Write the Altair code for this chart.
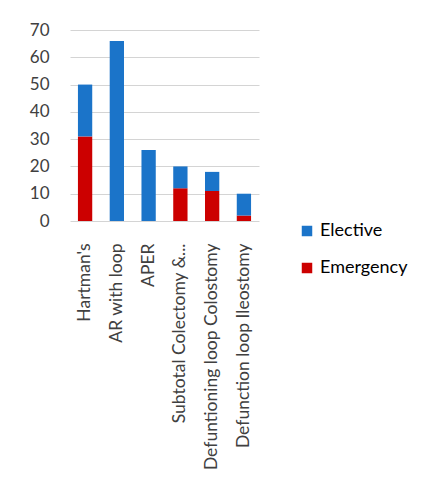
import altair as alt
import pandas as pd

categories = ["Hartman's", "AR with loop", "APER", "Subtotal Colectomy &...",
              "Defuntioning loop Colostomy", "Defunction loop Ileostomy"]
emergency = [31, 0, 0, 12, 11, 2]
elective = [19, 66, 26, 8, 7, 8]
series = ["Elective", "Emergency"]
colors = ["#1b74c9", "#cc0000"]

rows = []
for c, em, el in zip(categories, emergency, elective):
    rows.append({"cat": c, "series": "Emergency", "value": em, "ord": 0})
    rows.append({"cat": c, "series": "Elective", "value": el, "ord": 1})
df = pd.DataFrame(rows)

FONT = "Lato"

chart = alt.Chart(df).mark_bar(strokeWidth=0).encode(
    x=alt.X("cat:N", sort=categories, title=None,
            scale=alt.Scale(paddingInner=0.55, paddingOuter=0.25),
            axis=alt.Axis(labelAngle=-90, labelPadding=22, ticks=False, domain=False,
                          grid=False, labelFontSize=17.5,
                          labelColor="#404040", labelFont=FONT, labelLimit=400)),
    y=alt.Y("value:Q", stack="zero", title=None,
            scale=alt.Scale(domain=[0, 70], nice=False),
            axis=alt.Axis(values=[0, 10, 20, 30, 40, 50, 60, 70], ticks=False, domain=False,
                          labelPadding=21, labelFontSize=17, labelColor="#404040",
                          labelFont=FONT, gridColor="#d4d4d4", gridWidth=1)),
    color=alt.Color("series:N", scale=alt.Scale(domain=series, range=colors),
                    legend=alt.Legend(title=None, orient="none", legendX=228, legendY=192,
                                      symbolType="square", symbolSize=110,
                                      symbolStrokeWidth=0, labelFontSize=18,
                                      labelFont=FONT, labelColor="#000000",
                                      labelOffset=4, rowPadding=19, padding=0)),
    order=alt.Order("ord:Q"),
).properties(
    width=189, height=191,
    background="#ffffff",
    autosize=alt.AutoSizeParams(type="none"),
    padding={"left": 62, "top": 22, "right": 160, "bottom": 260},
).configure(
    view=alt.ViewConfig(stroke="#ffffff", strokeWidth=1),
)

chart.save("out.html", embed_options={"renderer": "svg", "actions": False})
